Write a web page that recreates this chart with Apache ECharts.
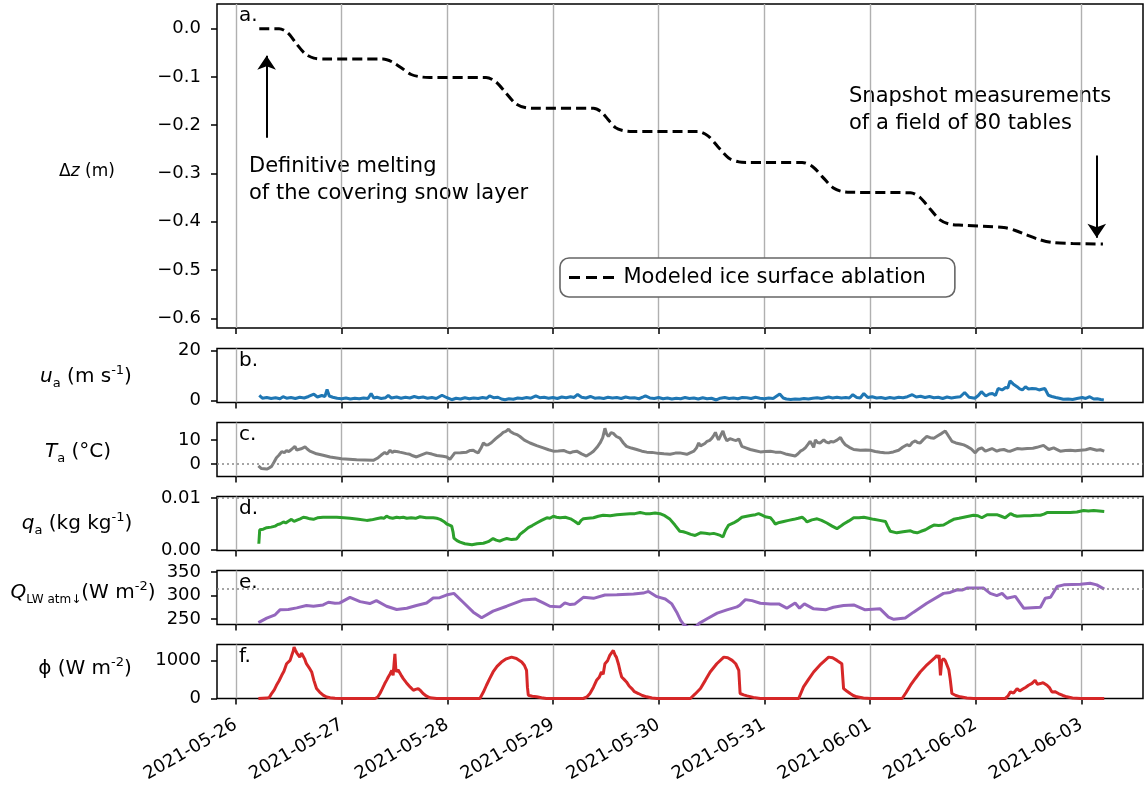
<!DOCTYPE html>
<html><head><meta charset="utf-8">
<script src="https://cdn.jsdelivr.net/npm/echarts@6/dist/echarts.min.js"></script>
<style>html,body{margin:0;padding:0;background:#fff;}#chart{width:1145px;height:786px;}</style>
</head><body><div id="chart"></div>
<script>
// ---------------- DATA (hours since 2021-05-26 00:00 UTC, value) ----------------
const dayLabels = ['2021-05-26','2021-05-27','2021-05-28','2021-05-29','2021-05-30','2021-05-31','2021-06-01','2021-06-02','2021-06-03'];

const dzTicks = [0, -0.1, -0.2, -0.3, -0.4, -0.5, -0.6];
const uTicks = [0, 20];
const taTicks = [0, 10];
const qTicks = [0, 0.01];
const lwTicks = [250, 300, 350];
const swTicks = [0, 1000];

const taRef = 0;
const qRef = 0.00507;
const lwRef = 315.6;

const legendName = 'Modeled ice surface ablation';
const noteMelt = 'Definitive melting\nof the covering snow layer';
const noteSnap = 'Snapshot measurements\nof a field of 80 tables';
const arrowMelt = [[6.97, -0.226], [6.97, -0.056]];
const arrowSnap = [[195.5, -0.263], [195.5, -0.433]];

const dzData = [[5.3,0],[9.8,0],[11.8,-0.009],[13.7,-0.031],[15.7,-0.052],[17.7,-0.061],[20,-0.063],[33.4,-0.063],[35.5,-0.069],[37.7,-0.082],[39.8,-0.095],[42,-0.1],[44,-0.101],[56.8,-0.101],[59,-0.11],[61.3,-0.133],[63.6,-0.156],[65.9,-0.164],[68,-0.165],[81.2,-0.165],[82.9,-0.172],[84.5,-0.188],[86.2,-0.205],[87.9,-0.211],[90,-0.213],[104.9,-0.213],[107.2,-0.222],[109.5,-0.245],[111.9,-0.268],[114.2,-0.276],[116,-0.277],[128.6,-0.277],[131,-0.286],[133.3,-0.308],[135.7,-0.33],[138,-0.338],[140,-0.339],[153.2,-0.34],[155.4,-0.35],[157.6,-0.373],[159.9,-0.396],[162.1,-0.405],[165,-0.407],[174.4,-0.412],[177,-0.418],[179.5,-0.427],[182.5,-0.437],[185.4,-0.443],[190,-0.445],[196.9,-0.446]];

const uData = [[5.3,2.0],[6,0.9],[7,1.2],[8,0.8],[9,1.1],[10,0.7],[10.7,1.5],[11.5,0.9],[12.5,1.2],[13.5,0.8],[14.5,1.3],[15.5,1.0],[16.5,1.6],[17.7,2.5],[18.5,1.4],[19.5,2.0],[20.2,1.6],[20.7,4.4],[21.2,1.8],[22,1.3],[23,0.9],[24,0.7],[25,1.0],[26,0.6],[27,0.9],[28,0.7],[29,1.0],[30,0.8],[30.7,2.8],[31.3,1.0],[32,1.3],[33,0.8],[34,1.1],[34.6,2.0],[35.3,1.0],[36.5,1.4],[37.5,0.9],[38.5,1.3],[39.5,1.0],[40.5,1.6],[41.5,1.1],[42.5,1.4],[43.5,0.9],[44.5,1.2],[45.5,0.8],[46.8,2.1],[47.8,1.2],[49,0.3],[50,0.9],[51,0.6],[52,1.1],[53,0.7],[54,1.0],[55,0.8],[56,1.2],[57,0.9],[57.6,1.8],[58.5,1.1],[59.5,1.3],[60.3,0.6],[61.1,0.3],[62,0.7],[63,0.5],[64,1.0],[65,0.8],[66,1.2],[67,0.9],[68.1,1.8],[69,1.1],[70,1.3],[71,0.9],[72,1.2],[73,0.8],[74,1.4],[75,1.1],[76,1.5],[76.8,1.2],[77.6,2.4],[78.5,1.3],[79.5,1.0],[80.5,1.6],[81.5,0.9],[82.5,1.1],[83.5,0.8],[84.5,1.3],[85.5,1.0],[86.5,1.2],[87.5,0.8],[88.5,1.4],[89.5,1.0],[90.5,1.1],[91.5,0.7],[92.5,1.4],[93,1.8],[94,1.0],[95,0.8],[96,1.2],[97,0.7],[98,1.0],[99,0.6],[100,0.9],[101,0.7],[102,1.2],[103,0.8],[104,1.0],[105,0.6],[106,1.1],[107,0.7],[108,0.9],[109.1,0.2],[110,0.9],[111,1.2],[112,0.8],[113,1.0],[114,0.7],[115,1.2],[116,1.1],[117,0.8],[118,1.3],[119,0.9],[120,0.7],[121,1.0],[122,0.8],[123.5,2.6],[124.3,1.0],[125,0.6],[126,0.4],[127,0.6],[128,0.5],[129,0.8],[130,0.6],[131,0.9],[132,1.1],[133,0.8],[134.6,1.4],[135.5,1.0],[136.5,1.3],[137.5,1.0],[138.5,1.2],[139.3,1.0],[140.1,2.3],[141,1.2],[141.8,1.0],[142.6,2.8],[143.5,1.2],[144.5,1.5],[145.5,1.0],[146.5,1.2],[147.5,0.8],[148.5,1.2],[149.5,0.9],[150.5,1.3],[151.5,1.1],[152.5,1.5],[153.6,2.3],[154.5,1.4],[155.5,1.7],[156.5,1.2],[157.5,1.6],[158.5,1.1],[159.5,1.3],[160.5,0.8],[161.5,1.4],[162.5,1.0],[163.5,1.3],[164.5,1.5],[165.5,3.2],[166.5,1.3],[167.8,0.9],[168.6,2.0],[169.3,3.5],[170.3,1.8],[171.1,2.6],[171.8,2.8],[172.5,2.0],[173.1,4.8],[174,4.2],[174.8,5.2],[175.3,5.0],[175.8,7.8],[176.5,6.6],[177.4,5.5],[178,4.6],[178.6,4.2],[179.3,5.5],[180,4.6],[180.8,4.8],[181.6,4.7],[182.4,4.2],[183,4.5],[183.7,4.8],[184.5,2.1],[185.3,1.6],[186.2,1.2],[187,0.9],[187.9,0.5],[189,0.6],[190,0.4],[191,0.8],[192.2,1.2],[193,0.8],[193.9,1.5],[194.8,0.6],[195.6,0.7],[196.4,0.4],[197.1,0.2]];

const taData = [[5.1,-0.7],[5.8,-1.8],[7.0,-2.0],[7.5,-1.6],[8.1,-0.9],[8.7,1.0],[9.2,2.7],[9.8,3.8],[10.4,5.2],[11.0,4.8],[11.5,5.7],[12.0,5.2],[12.6,6.1],[13.0,5.6],[13.4,7.4],[13.8,5.9],[14.2,6.1],[14.8,6.4],[15.2,5.8],[15.7,7.2],[16.2,6.3],[16.8,5.4],[17.5,4.9],[18.3,4.3],[19.8,3.7],[21.4,3.0],[24,2.3],[27.4,1.8],[31.2,1.6],[32.3,2.7],[33.0,3.8],[33.8,4.9],[34.3,4.2],[35,5.8],[35.5,4.9],[36,5.4],[36.5,5.3],[37.2,5.0],[38,4.7],[38.7,4.4],[39.5,4.1],[40.2,3.5],[41,3.0],[42,3.8],[43.3,4.7],[44.5,4.2],[45.6,3.6],[47,3.3],[47.9,3.0],[48.6,2.0],[49.7,4.7],[51,4.8],[52.4,5.0],[53.2,5.7],[53.9,5.8],[54.5,5.1],[55,4.7],[55.6,6.5],[56.2,8.8],[56.8,8.0],[57.3,8.1],[58.0,8.9],[58.4,9.5],[59,10.6],[59.6,11.5],[60.2,12.3],[60.7,13.2],[61.3,13.6],[61.9,14.5],[62.4,13.5],[63,12.8],[63.8,12.3],[64.5,11.5],[65.5,10.0],[66.8,8.8],[68.3,7.7],[69.8,6.8],[71,6.0],[72.1,5.4],[73.2,5.5],[74.4,5.7],[75.2,5.1],[75.9,4.7],[76.6,5.2],[77.4,5.4],[78.5,4.3],[79.6,3.4],[80.4,4.3],[81.2,5.4],[82,7.0],[82.7,8.8],[83.3,11.0],[83.8,14.9],[84.2,12.5],[84.6,11.5],[85.2,13.1],[85.7,12.8],[86.4,11.5],[87.2,10.8],[88,8.8],[88.7,7.4],[89.8,6.7],[91,6.1],[92.2,5.4],[93.3,5.0],[94.5,4.9],[95.9,4.5],[97.2,4.3],[98.6,4.1],[99.8,4.6],[100.8,4.7],[102.4,4.1],[104,5.4],[104.6,6.8],[105.1,8.8],[105.5,7.6],[105.9,7.4],[106.5,8.6],[107,9.5],[107.6,9.9],[108.1,10.8],[108.5,11.9],[108.9,13.2],[109.3,11.2],[109.6,10.1],[110.1,12.0],[110.6,13.8],[111,11.5],[111.5,9.7],[112.2,10.6],[113,10.1],[113.6,9.8],[114.2,10.5],[114.9,7.4],[115.8,6.8],[116.8,6.1],[118,5.6],[119.1,5.1],[120.2,5.3],[121.4,5.4],[122.5,5.0],[123.6,5.0],[124.3,4.6],[125.1,4.1],[126.2,3.7],[127,3.4],[127.6,4.2],[128.2,5.4],[128.8,6.0],[129.3,6.8],[129.9,8.2],[130.4,9.5],[130.8,8.4],[131.2,7.0],[131.6,10.1],[132.1,9.0],[132.7,8.8],[133.1,9.6],[133.5,10.1],[134.0,9.3],[134.6,8.8],[135.1,9.4],[135.7,9.2],[136.5,10.0],[137.3,11.1],[137.8,9.4],[138.4,8.1],[139.3,7.0],[140.3,6.1],[141.8,5.8],[143,5.9],[144.1,5.8],[145.2,5.3],[146.3,5.0],[147.3,4.8],[148.2,4.7],[149.3,5.1],[150.5,5.8],[151.4,7.0],[152.4,8.1],[153.0,7.6],[153.6,9.0],[154.3,9.7],[154.8,9.0],[155.4,8.8],[156.1,10.2],[156.9,11.5],[157.7,11.0],[158.5,10.8],[159.3,11.7],[160.3,12.8],[160.7,12.0],[161.1,13.8],[161.5,13.0],[161.9,11.5],[162.6,9.5],[163.5,8.8],[164.5,8.4],[165.3,8.0],[166,7.4],[167,6.3],[167.9,4.7],[168.6,6.2],[169.4,6.8],[170.2,5.4],[171.7,6.5],[172.8,5.4],[173.5,5.9],[174.4,6.1],[175.2,5.5],[175.9,5.4],[177.4,6.5],[178.5,6.3],[179.7,6.5],[181,6.6],[181.9,7.0],[183.4,7.8],[184.6,6.1],[185.7,6.8],[187.2,5.4],[188.4,5.7],[189.5,5.8],[190.6,5.6],[191.8,5.8],[193,6.0],[194,6.5],[195.5,5.8],[196.3,6.0],[197.2,5.4]];

const qData = [[5.2,0.0012],[5.4,0.0039],[6.2,0.0040],[7,0.0043],[8,0.0044],[8.9,0.0046],[9.5,0.0049],[10,0.0050],[10.4,0.0047],[10.8,0.0054],[11.3,0.0052],[11.8,0.0055],[12.6,0.0059],[13.2,0.0055],[14,0.0058],[14.6,0.0060],[15.3,0.0063],[16,0.0062],[16.8,0.0060],[17.6,0.0059],[18.5,0.0062],[19.8,0.0063],[21.3,0.0063],[22.9,0.0063],[24.5,0.0062],[25.9,0.0061],[27.8,0.0059],[29.7,0.0057],[30.8,0.0058],[31.9,0.0060],[33,0.0062],[33.6,0.0061],[34.2,0.0065],[35,0.0062],[35.6,0.0061],[36.5,0.0063],[37.2,0.0062],[38,0.0063],[38.8,0.0061],[39.8,0.0062],[40.8,0.0061],[41.8,0.0064],[43.2,0.0062],[44.8,0.0062],[45.6,0.0061],[46.4,0.0059],[47.2,0.0055],[47.9,0.0050],[48.5,0.0048],[49,0.0046],[49.3,0.0035],[49.5,0.0023],[50.2,0.0018],[50.9,0.0015],[52,0.0012],[53.6,0.0010],[54.8,0.0012],[56.2,0.0013],[57.3,0.0016],[58.4,0.0022],[59.1,0.0019],[59.9,0.0017],[60.7,0.0020],[61.5,0.0022],[62.6,0.0020],[63.7,0.0021],[64.2,0.0026],[64.5,0.0030],[65.4,0.0036],[66.4,0.0043],[67.3,0.0047],[68.3,0.0052],[69.4,0.0057],[70.6,0.0062],[71.3,0.0061],[72.1,0.0065],[72.8,0.0063],[73.6,0.0062],[74.8,0.0063],[76,0.0060],[77,0.0055],[77.8,0.0050],[78.4,0.0057],[78.9,0.0060],[80,0.0061],[81.2,0.0062],[82.3,0.0065],[83.4,0.0067],[85,0.0066],[86.5,0.0068],[88,0.0069],[89.5,0.0070],[90.6,0.0070],[91.8,0.0072],[93,0.0070],[94,0.0070],[95.2,0.0071],[96.3,0.0070],[97.4,0.0066],[98.6,0.0059],[99.7,0.0048],[100.8,0.0036],[101.6,0.0035],[102.4,0.0033],[103.3,0.0030],[104.3,0.0028],[105.5,0.0033],[106.6,0.0032],[107.7,0.0031],[108.5,0.0032],[109.3,0.0030],[110,0.0028],[110.6,0.0025],[111.2,0.0038],[111.9,0.0048],[113,0.0052],[114,0.0057],[114.9,0.0063],[116,0.0065],[117.2,0.0067],[118,0.0068],[118.7,0.0070],[119.5,0.0067],[120.2,0.0064],[121.4,0.0062],[122,0.0056],[122.5,0.0050],[123.4,0.0053],[124.4,0.0055],[125.5,0.0057],[126.7,0.0059],[127.7,0.0061],[128.6,0.0063],[129.2,0.0059],[129.7,0.0054],[130.8,0.0058],[132,0.0060],[133,0.0057],[134.2,0.0052],[135.4,0.0046],[136.5,0.0041],[137.2,0.0045],[138,0.0050],[139.2,0.0056],[140.3,0.0062],[141.5,0.0062],[142.6,0.0063],[143.7,0.0061],[144.8,0.0059],[146.2,0.0057],[147.5,0.0055],[148,0.0046],[148.6,0.0036],[150.1,0.0033],[151.5,0.0035],[153.2,0.0037],[154,0.0034],[154.7,0.0033],[155.6,0.0036],[156.6,0.0039],[157.6,0.0044],[158.5,0.0048],[159.6,0.0047],[160.7,0.0048],[161.9,0.0054],[163,0.0059],[164.2,0.0061],[165.3,0.0063],[166.4,0.0065],[167.5,0.0067],[168.5,0.0066],[169.4,0.0062],[170.6,0.0068],[171.7,0.0068],[172.8,0.0068],[173.8,0.0065],[174.7,0.0062],[175.9,0.0070],[176.6,0.0067],[177.4,0.0065],[179,0.0066],[180.4,0.0066],[181.5,0.0067],[182.7,0.0067],[183.5,0.0069],[184.2,0.0072],[186,0.0072],[188,0.0072],[189.5,0.0072],[191,0.0073],[192.5,0.0076],[193.6,0.0075],[194.8,0.0076],[196,0.0075],[197.2,0.0074]];

const lwData = [[5.1,242.7],[7,252.4],[8.9,259.4],[10,269.9],[11.9,270.6],[13.8,274.1],[16,279],[17.6,277.6],[19.8,280.4],[21,286],[22.5,283.9],[23.6,284.6],[25.9,296.5],[28.2,287.4],[30.4,283.2],[31.9,289.5],[34.2,277.6],[36.5,270.6],[38.8,273.4],[41,279],[43.3,284.6],[44.8,295.1],[46.3,295.8],[47.8,301.4],[49.5,304.9],[51.6,286],[53.9,265],[55.8,253.1],[58.4,267.1],[61.5,277.6],[65.3,290.9],[67.9,293],[69.8,284.6],[71.3,277.6],[73.6,276.2],[74.7,284.6],[75.9,281.1],[77,282.5],[78.9,296.5],[81.2,294.4],[83.8,301.4],[86.5,302.1],[90.3,303.5],[92.5,305.6],[93.7,309.1],[95.6,297.9],[97.5,293],[99,282.5],[100.1,265],[101,247.6],[101.7,238.5],[102.7,233],[103.7,232],[104.7,236],[105.1,240.6],[107,251],[109.3,262.9],[111.5,269.9],[113.8,276.2],[114.5,280.4],[115.7,291.6],[117.2,289.5],[119.1,283.9],[121.4,282.5],[123.3,282.5],[125.1,273.4],[127,284.6],[128,273.4],[129.1,282.5],[131.2,272],[133.9,269.9],[135.7,275.5],[138,279],[140.3,280.4],[142.9,269.9],[146.3,272],[148.2,254.5],[149.4,249.7],[152,252.4],[153.9,265],[156.9,283.9],[160.7,304.9],[162.2,307],[163.8,312.6],[164.9,311.9],[166,316.1],[169.8,316.1],[171.3,304.9],[172.8,300],[174,304.9],[175.1,294.4],[177,298.6],[178.9,273.4],[182.7,275.5],[183.8,294.4],[185,296.5],[186.5,319.6],[188,323.1],[191.8,324.5],[194,326.6],[195.5,323.1],[197.2,314]];

const swData = [[5.1,0],[7,10],[7.6,30],[8.1,130],[8.7,230],[9.2,350],[9.8,470],[10.4,614],[10.9,720],[11.5,921],[11.9,870],[12.3,1009],[12.7,1150],[13.0,1250],[13.2,1360],[13.5,1280],[13.8,1211],[14.1,1240],[14.5,1096],[14.9,1200],[15.3,1211],[15.6,1050],[16,921],[16.6,820],[17.2,702],[17.7,480],[18.3,263],[19,170],[19.8,88],[20.6,40],[21.4,18],[22.5,5],[24.4,0],[31.6,0],[32.2,40],[32.7,132],[33.2,250],[33.8,395],[34.2,480],[34.6,570],[35,650],[35.4,746],[35.7,614],[35.9,900],[36.1,1184],[36.3,800],[36.5,702],[36.8,760],[37.1,789],[37.5,620],[38,526],[38.4,560],[38.7,420],[39.1,439],[39.6,300],[40.3,219],[40.8,240],[41.4,263],[42,200],[42.5,132],[43.3,60],[44.1,18],[45.6,0],[55.4,0],[56.2,170],[56.9,351],[57.6,520],[58.4,702],[59.3,850],[60.3,965],[61.4,1050],[62.6,1096],[63.7,1060],[64.9,965],[65.5,880],[66,746],[66.2,300],[66.4,88],[67.3,60],[68.3,44],[69.4,20],[70.5,0],[78.9,0],[79.7,40],[80.4,132],[81.2,300],[81.9,482],[82.5,560],[83,702],[83.4,640],[83.8,921],[84.4,1000],[84.9,1140],[85.3,1180],[85.7,1272],[86.1,1150],[86.4,1096],[86.9,900],[87.3,700],[87.6,570],[88.2,500],[88.7,439],[89.3,330],[89.9,263],[90.5,180],[91.4,132],[92.3,80],[93.3,44],[94.5,15],[95.6,0],[103.2,0],[104.3,120],[105.5,263],[106.6,480],[107.7,702],[109.2,920],[110.8,1096],[111.7,1080],[112.7,1009],[113.5,920],[114.2,746],[114.5,132],[115.3,95],[116.1,70],[117.5,30],[119.1,0],[127.8,0],[128.9,307],[130,500],[131.2,702],[132.9,920],[134.6,1096],[135.5,1080],[136.5,1009],[137.6,921],[138,263],[138.7,200],[139.5,132],[140.2,80],[141,44],[142.5,15],[144.1,0],[151.3,0],[152.2,160],[153.2,351],[154.3,530],[155.4,702],[157,900],[158.5,1053],[159.2,1140],[159.5,1080],[159.7,1150],[160,614],[160.3,1000],[160.7,1053],[161.1,1000],[161.5,965],[161.9,760],[162.2,526],[162.6,132],[163.5,80],[164.5,44],[166,15],[167.5,0],[174.7,0],[175.3,60],[175.9,175],[176.6,140],[177.4,263],[178,200],[178.7,250],[179.4,300],[180,351],[180.8,400],[181.5,482],[182,380],[182.7,395],[183.3,420],[184.2,351],[184.8,280],[185.3,175],[186,180],[186.8,132],[187.8,80],[188.7,44],[190,15],[191.8,0],[197.2,0]];

// ---------------- CHART ----------------
const T0 = Date.UTC(2021, 4, 26);
const X_MIN = -4.3, X_MAX = 206;
const FONT = 'DejaVu Sans';
const TICK_FS = 18;
const dayTickHours = dayLabels.map(d => (Date.parse(d + 'T00:00:00Z') - T0) / 3.6e6);
const minus = s => s.replace('-', '\u2212');

function richStyles(base, sub) {
  return {
    i: {fontStyle: 'italic', fontSize: base, fontFamily: FONT, fill: '#000', lineHeight: 26},
    d: {fontSize: base, fontFamily: FONT, fill: '#000', lineHeight: 26},
    n: {fontSize: base, fontFamily: FONT, fill: '#000', lineHeight: 26},
    sub: {fontSize: sub, fontFamily: FONT, fill: '#000', lineHeight: sub, verticalAlign: 'bottom'},
    sup: {fontSize: 13, fontFamily: FONT, fill: '#000', lineHeight: 13, verticalAlign: 'top'}
  };
}

const panels = [
  {top: 4, height: 324, min: -0.62, max: 0.051, ticks: dzTicks, fmt: v => minus(v.toFixed(1)), title: '{d|\u0394}{i|z}{n| (m)}', base: 17, sub: 13, cx: 87, cy: 172, letter: 'a.'},
  {top: 348.5, height: 54, min: -0.8, max: 20.7, ticks: uTicks, fmt: v => String(v), title: '{i|u}{sub|a}{n| (m s}{sup|-1}{n|)}', base: 20, sub: 13, cx: 86, cy: 377, letter: 'b.'},
  {top: 422.5, height: 54, min: -5.1, max: 17.3, ticks: taTicks, fmt: v => String(v), title: '{i|T}{sub|a}{n| (\u00B0C)}', base: 20, sub: 13, cx: 78, cy: 452, letter: 'c.'},
  {top: 496.5, height: 54, min: -0.0001, max: 0.0103, ticks: qTicks, fmt: v => v.toFixed(2), title: '{i|q}{sub|a}{n| (kg kg}{sup|-1}{n|)}', base: 20, sub: 13, cx: 77, cy: 524, letter: 'd.'},
  {top: 570.5, height: 54, min: 238.7, max: 353.6, ticks: lwTicks, fmt: v => String(v), title: '{i|Q}{sub|LW atm\u2193}{n|(W m}{sup|-2}{n|)}', base: 20, sub: 12, cx: 83, cy: 593, letter: 'e.'},
  {top: 644.5, height: 54, min: 0, max: 1430, ticks: swTicks, fmt: v => String(v), title: '{n|\u03D5 (W m}{sup|-2}{n|)}', base: 20, sub: 13, cx: 85, cy: 669, letter: 'f.'}
];

const grids = panels.map(p => ({
  left: 217, right: 2, top: p.top, height: p.height,
  show: true, borderColor: '#000', borderWidth: 1.5, backgroundColor: 'transparent',
  containLabel: false, outerBoundsMode: 'none'
}));

const last = panels.length - 1;
const xAxes = panels.map((p, i) => ({
  gridIndex: i, type: 'value', min: X_MIN, max: X_MAX,
  axisLine: {show: false, onZero: false},
  axisTick: {show: true, inside: false, length: 6, customValues: dayTickHours, lineStyle: {color: '#000', width: 1.5}},
  axisLabel: {
    show: i === last, customValues: dayTickHours, rotate: 30, fontSize: TICK_FS, fontFamily: FONT, color: '#000',
    margin: 25,
    formatter: v => new Date(T0 + v * 3.6e6).toISOString().slice(0, 10)
  },
  splitLine: {show: true, lineStyle: {color: '#b0b0b0', width: 1.4}}
}));

const yAxes = panels.map((p, i) => ({
  gridIndex: i, type: 'value', min: p.min, max: p.max,
  axisLine: {show: false, onZero: false},
  axisTick: {show: true, inside: false, length: 6, customValues: p.ticks, lineStyle: {color: '#000', width: 1.5}},
  axisLabel: {customValues: p.ticks, formatter: p.fmt, fontSize: TICK_FS, fontFamily: FONT, color: '#000', margin: 16},
  splitLine: {show: false}
}));

function refLine(v) {
  return {
    silent: true, symbol: 'none', animation: false,
    label: {show: false},
    lineStyle: {type: [2, 3], color: '#888', width: 1.6},
    data: [{yAxis: v}]
  };
}

const lineSeries = (i, data, color, extra) => Object.assign({
  type: 'line', xAxisIndex: i, yAxisIndex: i, data: data,
  symbol: 'none', showSymbol: false, clip: true, animation: false,
  lineStyle: {color: color, width: 3}, itemStyle: {color: color}
}, extra || {});

const series = [
  lineSeries(0, dzData, '#000', {
    name: legendName, smooth: 0.3,
    lineStyle: {color: '#000', width: 3, type: [10, 5]},
    markLine: {
      silent: true, animation: false, symbol: ['none', 'arrow'], symbolSize: 14,
      label: {show: false},
      lineStyle: {type: 'solid', color: '#000', width: 2},
      data: [
        [{coord: arrowMelt[0]}, {coord: arrowMelt[1]}],
        [{coord: arrowSnap[0]}, {coord: arrowSnap[1]}]
      ]
    }
  }),
  lineSeries(1, uData, '#1f77b4'),
  lineSeries(2, taData, '#7f7f7f', {markLine: refLine(taRef)}),
  lineSeries(3, qData, '#2ca02c', {markLine: refLine(qRef)}),
  lineSeries(4, lwData, '#9467bd', {markLine: refLine(lwRef)}),
  lineSeries(5, swData, '#d62728')
];

const graphics = [];
panels.forEach(p => {
  graphics.push({
    type: 'text', left: 239, top: p.top + 2, silent: true,
    style: {text: p.letter, fontSize: 20, fontFamily: FONT, fill: '#000'}
  });
  graphics.push({
    type: 'text', x: p.cx, y: p.cy, silent: true,
    style: {text: p.title, align: 'center', verticalAlign: 'middle', fontSize: p.base, fontFamily: FONT, fill: '#000', rich: richStyles(p.base, p.sub)}
  });
});
graphics.push({type: 'text', left: 249, top: 153, silent: true,
  style: {text: noteMelt, fontSize: 21, fontFamily: FONT, fill: '#000', lineHeight: 27}});
graphics.push({type: 'text', left: 849, top: 83, silent: true,
  style: {text: noteSnap, fontSize: 21, fontFamily: FONT, fill: '#000', lineHeight: 27}});

const chart = echarts.init(document.getElementById('chart'), null, {renderer: 'canvas'});
chart.setOption({
  animation: false,
  backgroundColor: '#fff',
  grid: grids,
  xAxis: xAxes,
  yAxis: yAxes,
  series: series,
  legend: {
    data: [legendName], left: 560, top: 258, selectedMode: false,
    icon: 'path://M0,0H11V3H0Z M17,0H28V3H17Z M34,0H45V3H34Z',
    backgroundColor: '#fff', borderColor: '#666', borderWidth: 1.6, borderRadius: 9,
    padding: [9, 29, 9, 9], itemWidth: 46, itemHeight: 3,
    textStyle: {fontSize: 21, fontFamily: FONT, color: '#000', padding: [0, 0, 0, 4]}
  },
  graphic: graphics
});
</script></body></html>
